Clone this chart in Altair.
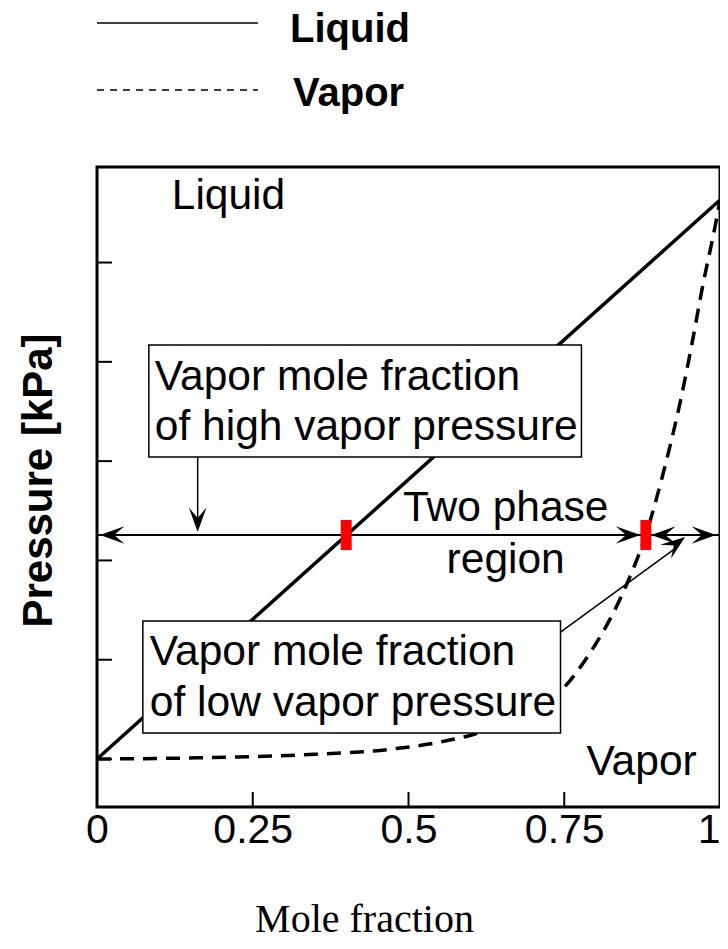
import altair as alt
import pandas as pd

# ---------------- data ----------------
series_names = ["Liquid", "Vapor"]
mole_fraction_liquid = [0.0, 1.0]
pressure_liquid = [0.0, 56.3]
mole_fraction_vapor = [0.0, 0.16, 0.32, 0.48, 0.55, 0.6, 0.65, 0.70, 0.746, 0.784,
                       0.853, 0.88, 0.906, 0.938, 0.954, 0.973, 0.992, 1.0]
pressure_vapor = [0.0, 0.12, 0.4, 1.05, 1.7, 2.4, 3.4, 4.8, 6.95, 10.0,
                  18.0, 22.4, 28.1, 36.5, 41.5, 47.9, 53.6, 56.3]
x_ticks = [0, 0.25, 0.5, 0.75, 1]
x_inner_ticks = [0.25, 0.5, 0.75]
y_ticks = [0, 10, 20, 30, 40, 50]
two_phase_pressure = 22.56
equilibrium_x = [0.4, 0.881]

FONT = "Liberation Sans"

xscale = alt.Scale(domain=[0, 1], nice=False, zero=False)
yscale = alt.Scale(domain=[-4.83, 59.62], nice=False, zero=False)
xaxis = alt.Axis(values=x_ticks, labelExpr="'' + datum.value", labelFlush=False,
                 labelAlign={"condition": {"test": "datum.value == 1", "value": "right"},
                             "value": "center"},
                 ticks=False, domain=False, grid=False,
                 labelFontSize=41, labelFont=FONT, labelColor="black", labelPadding=3,
                 title="Mole fraction", titleFont="Liberation Serif", titleFontSize=40,
                 titleFontWeight="normal", titleColor="black", titleX=267, titleY=124,
                 titleBaseline="alphabetic", titleAnchor="middle")
yaxis = alt.Axis(labels=False, ticks=False, domain=False, grid=False,
                 title="Pressure [kPa]", titleFont=FONT, titleFontSize=42,
                 titleFontWeight="bold", titleColor="black", titleAngle=270,
                 titleX=-59, titleY=313, titleBaseline="middle", titleAnchor="middle")


def X(f):
    return alt.X(f, type="quantitative", scale=xscale, axis=xaxis)


def Y(f):
    return alt.Y(f, type="quantitative", scale=yscale, axis=yaxis)


liq_df = pd.DataFrame({"x": mole_fraction_liquid, "p": pressure_liquid})
vap_df = pd.DataFrame({"x": mole_fraction_vapor, "p": pressure_vapor})

liquid = alt.Chart(liq_df).mark_line(color="black", strokeWidth=3.5).encode(x=X("x"), y=Y("p"))
vapor = alt.Chart(vap_df).mark_line(color="black", strokeWidth=3.5, strokeDash=[14, 9],
                                    interpolate="monotone").encode(x=X("x"), y=Y("p"))

ytick = alt.Chart(pd.DataFrame({"p": y_ticks})).mark_rule(color="black", strokeWidth=2).encode(
    y=Y("p"), x=alt.value(0), x2=alt.value(15))
xtick = alt.Chart(pd.DataFrame({"x": x_inner_ticks})).mark_rule(color="black", strokeWidth=2).encode(
    x=X("x"), y=alt.value(640), y2=alt.value(625))

# two-phase horizontal line
hline = alt.Chart(pd.DataFrame({"x": [0.0], "x2": [1.0], "p": [two_phase_pressure]})).mark_rule(
    color="black", strokeWidth=2).encode(x=X("x"), x2="x2", y=Y("p"))

# arrow shafts
vshaft = alt.Chart(pd.DataFrame({"x": [0.1616], "p": [30.41], "p2": [23.5]})).mark_rule(
    color="black", strokeWidth=1.5).encode(x=X("x"), y=Y("p"), y2="p2")
dshaft = alt.Chart(pd.DataFrame({"x": [0.744, 0.93], "p": [12.79, 21.3]})).mark_line(
    color="black", strokeWidth=1.5).encode(x=X("x"), y=Y("p"))

# boxes
boxes_df = pd.DataFrame({"x": [0.0832, 0.0736], "x2": [0.7776, 0.744],
                         "p": [41.69, 13.9], "p2": [30.41, 2.62]})
boxes = alt.Chart(boxes_df).mark_rect(fill="white", stroke="black", strokeWidth=1.5).encode(
    x=X("x"), x2="x2", y=Y("p"), y2="p2")

# texts
left_txt_df = pd.DataFrame({
    "x": [0.0928, 0.0928, 0.0848, 0.0848, 0.12, 0.7856],
    "p": [38.47, 33.43, 10.78, 5.64, 56.7, -0.3],
    "t": ["Vapor mole fraction", "of high vapor pressure",
          "Vapor mole fraction", "of low vapor pressure", "Liquid", "Vapor"]})
left_txt = alt.Chart(left_txt_df).mark_text(align="left", baseline="middle", font=FONT,
                                            fontSize=42.5, color="black").encode(
    x=X("x"), y=Y("p"), text="t")
center_txt_df = pd.DataFrame({"x": [0.656, 0.656], "p": [25.33, 20.04],
                              "t": ["Two phase", "region"]})
center_txt = alt.Chart(center_txt_df).mark_text(align="center", baseline="middle", font=FONT,
                                                fontSize=42.5, color="black").encode(
    x=X("x"), y=Y("p"), text="t")

# arrowheads (tip at origin, pointing right)
arrow_path = "M0,0 L-2,-0.72 L-1.15,0 L-2,0.72 Z"
heads_df = pd.DataFrame({
    "x": [0.0048, 0.9936, 0.872, 0.8896, 0.1616, 0.944],
    "p": [two_phase_pressure, two_phase_pressure, two_phase_pressure, two_phase_pressure, 22.86, 22.36],
    "a": [180, 0, 0, 180, 90, 322.8]})
heads = alt.Chart(heads_df).mark_point(shape=arrow_path, filled=True, color="black",
                                       opacity=1, size=600, strokeWidth=0).encode(
    x=X("x"), y=Y("p"), angle=alt.Angle("a", type="quantitative", scale=None))

# red equilibrium markers
red = alt.Chart(pd.DataFrame({"x": equilibrium_x})).mark_rule(
    color="#ff0000", strokeWidth=11).encode(
    x=X("x"), y=alt.Y(datum=21.05, type="quantitative", scale=yscale, axis=yaxis),
    y2=alt.Y2(datum=24.07))

# legend
leg_df = pd.DataFrame({"series": series_names})
leg_liq_line = alt.Chart(leg_df).transform_filter(alt.datum.series == "Liquid").mark_rule(
    color="black", strokeWidth=1.5).encode(x=alt.value(0), x2=alt.value(161), y=alt.value(-144))
leg_vap_line = alt.Chart(leg_df).transform_filter(alt.datum.series == "Vapor").mark_rule(
    color="black", strokeWidth=1.5, strokeDash=[7, 6]).encode(
    x=alt.value(0), x2=alt.value(161), y=alt.value(-77))
leg_liq_txt = alt.Chart(leg_df).transform_filter(alt.datum.series == "Liquid").mark_text(
    align="left", baseline="middle", font=FONT, fontSize=40, fontWeight="bold", color="black").encode(
    x=alt.value(193), y=alt.value(-137), text="series:N")
leg_vap_txt = alt.Chart(leg_df).transform_filter(alt.datum.series == "Vapor").mark_text(
    align="left", baseline="middle", font=FONT, fontSize=40, fontWeight="bold", color="black").encode(
    x=alt.value(196), y=alt.value(-73), text="series:N")

chart = alt.layer(
    liquid, vapor, ytick, xtick, hline, vshaft, dshaft, boxes, left_txt, center_txt,
    heads, red, leg_liq_line, leg_vap_line, leg_liq_txt, leg_vap_txt
).properties(
    width=623, height=640,
    autosize=alt.AutoSizeParams(type="none"),
    padding={"left": 89, "top": 159, "right": 0, "bottom": 134},
).configure(
    background="white",
    view=alt.ViewConfig(stroke="black", strokeWidth=3),
)

chart.save("out.html", embed_options={"renderer": "svg", "actions": False})
